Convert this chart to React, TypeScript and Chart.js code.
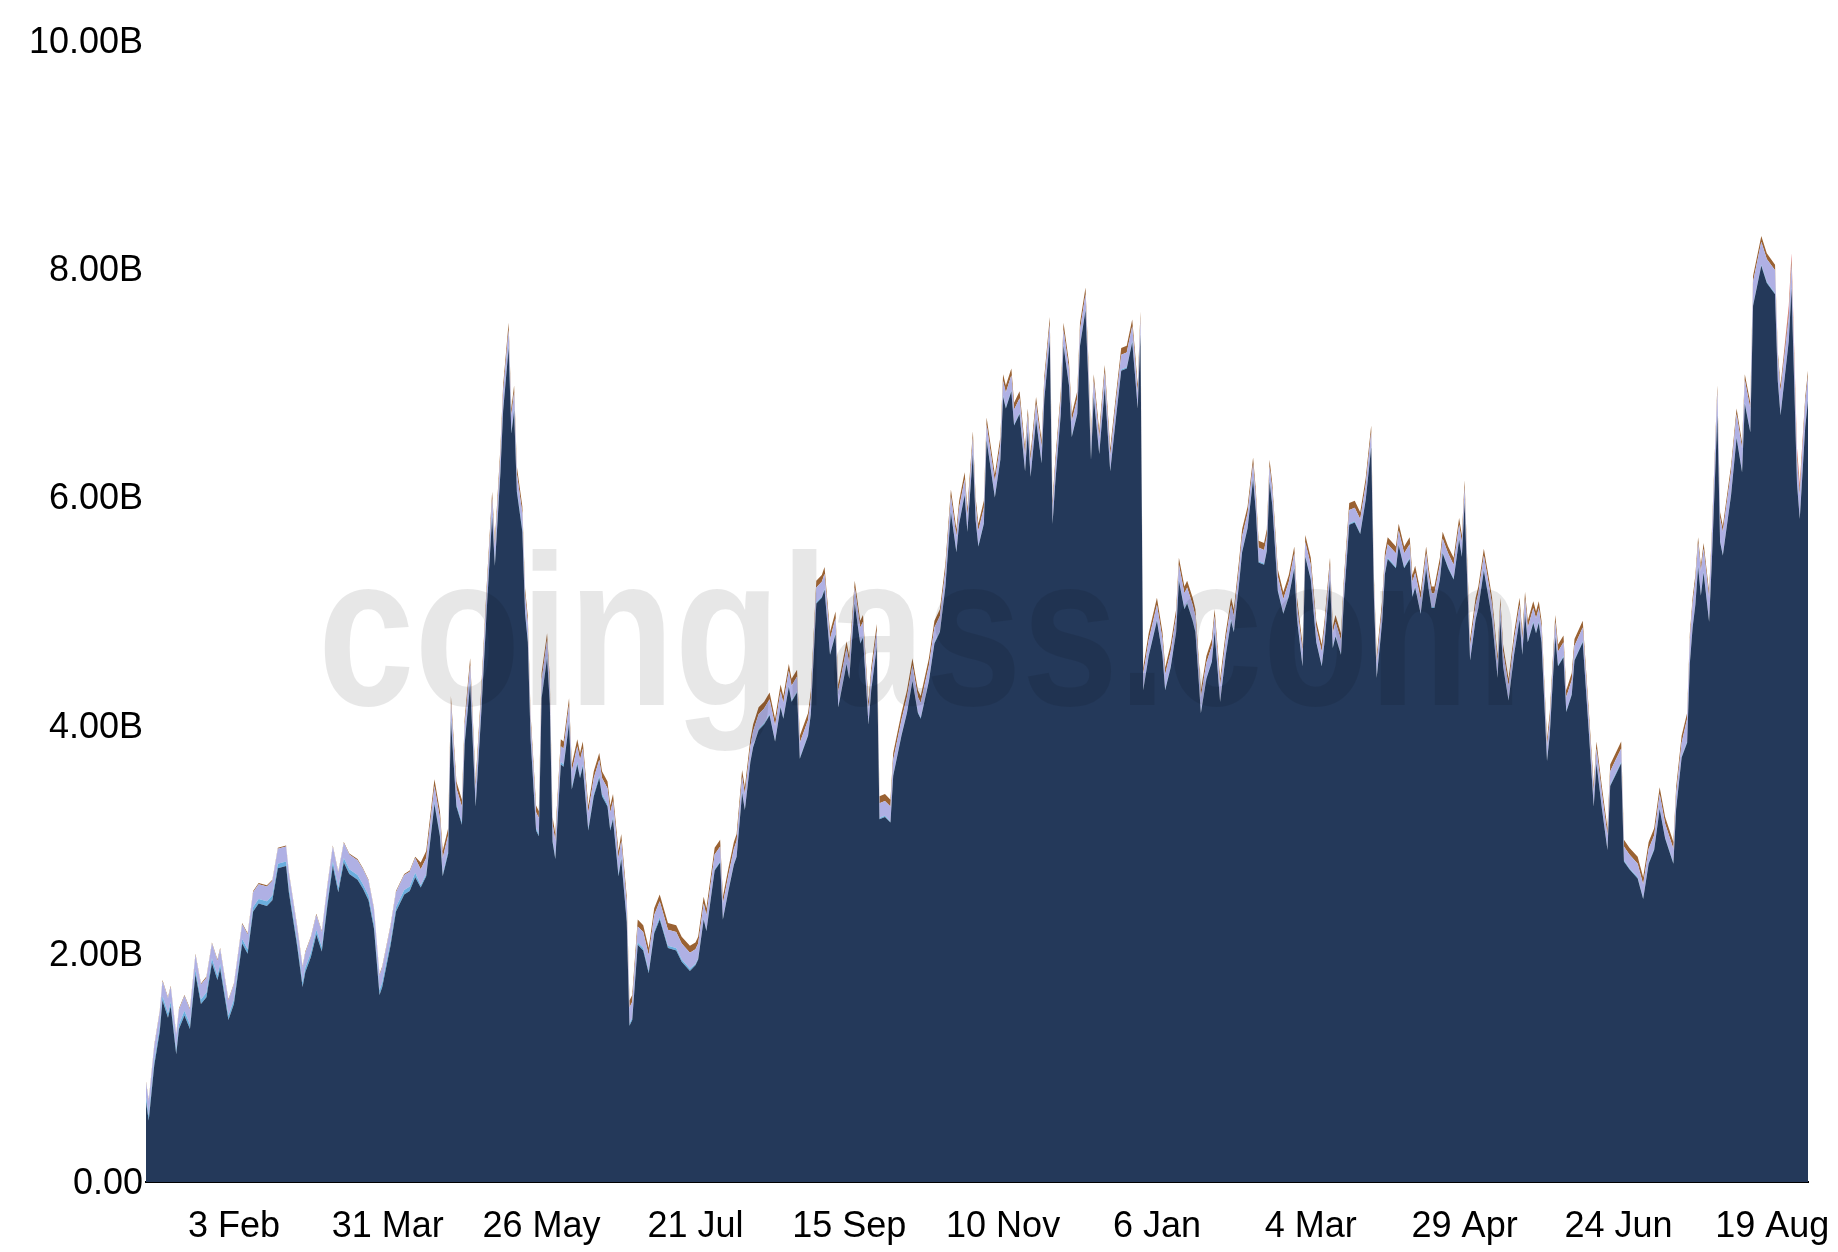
import React, { useEffect, useRef } from 'react';
import { Chart, registerables } from 'chart.js';

Chart.register(...registerables);

// Day offsets from the first data point (2 Jan 2023)
const days = [
  0,1,3,5,6,8,9,11,12,14,
  16,18,20,22,24,26,27,30,32,35,
  37,39,41,44,46,48,51,52,55,57,
  58,60,62,64,66,68,70,72,74,77,
  79,81,83,85,86,89,91,94,96,98,
  100,102,105,107,108,110,111,113,115,116,
  118,120,122,124,126,127,129,130,132,133,
  134,135,137,138,139,140,142,143,144,146,
  147,148,149,151,152,154,155,157,158,159,
  161,163,165,166,168,169,170,172,173,175,
  176,177,179,181,183,185,187,190,193,195,
  198,
  200,201,203,204,207,209,210,212,214,215,
  217,218,220,221,223,225,227,229,231,232,
  234,235,237,238,241,242,244,246,247,249,
  251,252,255,256,258,260,261,263,264,266,
  267,269,271,272,275,277,279,281,282,285,
  287,289,291,293,295,296,298,299,
  301,302,303,305,306,309,311,312,313,315,
  316,318,320,321,322,324,326,327,329,330,
  331,333,334,336,337,339,340,342,343,344,
  345,347,349,351,353,355,357,359,360,361,
  362,363,365,368,370,371,373,375,376,378,
  379,381,382,384,386,388,389,391,393,395,
  396,398,399,
  401,403,404,405,407,408,409,410,412,414,
  416,418,419,421,422,424,426,428,429,431,
  432,433,435,436,438,440,442,444,446,447,
  448,450,451,452,455,456,458,460,461,462,
  464,466,467,468,469,471,472,474,476,478,
  479,480,481,482,484,485,487,489,490,492,
  493,494,496,498,
  500,501,502,503,505,506,507,508,510,511,
  513,514,516,517,519,520,523,525,527,528,
  530,532,533,535,537,538,540,543,545,547,
  549,551,553,556,557,559,561,562,563,564,
  565,566,567,569,570,572,573,574,577,579,
  581,582,584,585,588,590,593,594,595,598,
  599,601,602,604,605,
];

// Main series (billions)
const navySeries = [
  0.70,0.54,1.02,1.32,1.59,1.44,1.54,1.12,1.34,1.46,
  1.34,1.82,1.56,1.62,1.92,1.77,1.87,1.42,1.56,2.09,
  2.00,2.37,2.44,2.42,2.47,2.75,2.77,2.54,2.07,1.71,
  1.84,1.97,2.17,2.02,2.42,2.77,2.54,2.80,2.70,2.65,
  2.57,2.47,2.22,1.64,1.71,2.07,2.37,2.52,2.55,2.67,
  2.58,2.68,3.31,3.03,2.68,2.88,4.04,3.29,3.13,3.84,
  4.37,3.29,4.09,5.00,5.83,5.40,6.21,6.76,7.31,6.56,
  6.76,6.05,5.70,4.98,4.73,3.88,3.08,3.03,4.24,4.59,
  4.19,2.98,2.83,3.66,3.64,4.02,3.44,3.66,3.54,3.64,
  3.08,3.38,3.54,3.38,3.29,3.08,3.18,2.68,2.83,2.28,
  1.37,1.42,2.08,2.03,1.83,2.18,2.30,2.05,2.03,1.93,
  1.85,
  1.90,1.95,2.30,2.20,2.73,2.80,2.30,2.55,2.78,2.85,
  3.41,3.26,3.68,3.81,3.96,4.01,4.09,3.86,4.16,4.06,
  4.34,4.21,4.29,3.71,3.91,4.10,5.07,5.12,5.19,4.62,
  4.80,4.16,4.54,4.41,5.07,4.72,4.77,4.01,4.31,4.69,
  3.18,3.20,3.15,3.56,3.91,4.11,4.39,4.11,4.06,4.39,
  4.72,4.82,5.22,5.87,5.52,5.77,6.02,5.70,
  6.38,5.80,5.57,5.77,6.50,6.00,6.33,6.88,6.78,6.93,
  6.63,6.73,6.23,6.58,6.18,6.68,6.30,6.86,7.38,5.77,
  6.13,6.73,7.33,6.98,6.53,6.73,7.33,7.64,7.03,6.33,
  6.88,6.38,6.96,6.23,6.68,7.11,7.13,7.36,7.08,6.78,
  7.43,4.31,4.61,4.92,4.62,4.31,4.51,4.82,5.27,5.02,
  5.07,4.92,4.82,4.11,4.41,4.56,4.82,4.21,4.61,4.92,
  4.82,5.27,5.52,
  5.73,6.16,5.88,5.43,5.41,5.53,6.14,5.93,5.18,4.98,
  5.13,5.38,4.93,4.52,5.48,5.28,4.73,4.52,4.73,5.28,
  4.68,4.78,4.62,5.08,5.76,5.78,5.68,5.98,6.44,5.11,
  4.42,4.91,5.33,5.46,5.38,5.58,5.38,5.46,5.13,5.21,
  4.98,5.38,5.18,5.03,5.03,5.28,5.51,5.38,5.28,5.63,
  5.48,5.96,5.23,4.57,4.93,5.03,5.36,5.08,4.93,4.42,
  4.93,4.52,4.22,4.62,
  4.93,4.62,4.98,4.73,4.90,4.81,4.90,4.73,3.69,3.92,
  4.78,4.52,4.60,4.12,4.27,4.57,4.73,4.02,3.29,3.67,
  3.27,2.91,3.47,3.57,3.67,2.81,2.74,2.66,2.48,2.79,
  2.91,3.27,3.01,2.79,3.27,3.72,3.85,4.55,4.86,5.06,
  5.39,5.14,5.34,4.91,5.44,6.72,5.61,5.49,6.02,6.52,
  6.22,6.82,6.57,7.68,8.03,7.88,7.78,7.02,6.72,7.37,
  7.83,6.12,5.81,6.62,6.85,
];

const lightBlueSeries = [
  0.04,0.04,0.04,0.04,0.04,0.04,0.04,0.04,0.04,0.04,
  0.04,0.04,0.04,0.04,0.04,0.04,0.04,0.04,0.04,0.04,
  0.04,0.04,0.04,0.04,0.04,0.04,0.04,0.04,0.04,0.04,
  0.04,0.04,0.04,0.04,0.04,0.04,0.04,0.04,0.04,0.04,
  0.04,0.04,0.04,0.04,0.04,0.04,0.04,0.04,0.04,0.04,
  0.02,0.02,0.02,0.02,0.02,0.02,0.02,0.02,0.02,0.02,
  0.02,0.02,0.02,0.02,0.02,0.02,0.02,0.02,0.02,0.02,
  0.02,0.02,0.02,0.02,0.02,0.02,0.02,0.02,0.02,0.02,
  0.02,0.02,0.02,0.02,0.02,0.02,0.02,0.02,0.02,0.02,
  0.02,0.02,0.02,0.02,0.02,0.02,0.02,0.02,0.02,0.02,
  0.02,0.02,0.02,0.02,0.02,0.02,0.02,0.02,0.02,0.02,
  0.02,
  0.01,0.01,0.01,0.01,0.01,0.01,0.01,0.01,0.01,0.01,
  0.01,0.01,0.01,0.01,0.01,0.01,0.01,0.01,0.01,0.01,
  0.01,0.01,0.01,0.01,0.01,0.01,0.01,0.01,0.01,0.01,
  0.01,0.01,0.01,0.01,0.01,0.01,0.01,0.01,0.01,0.01,
  0.01,0.01,0.01,0.01,0.01,0.01,0.01,0.01,0.01,0.01,
  0.01,0.01,0.01,0.01,0.01,0.01,0.01,0.01,
  0.01,0.01,0.01,0.01,0.01,0.01,0.01,0.01,0.01,0.01,
  0.01,0.01,0.01,0.01,0.01,0.01,0.01,0.01,0.01,0.01,
  0.01,0.01,0.01,0.01,0.01,0.01,0.01,0.01,0.01,0.01,
  0.01,0.01,0.01,0.01,0.01,0.01,0.01,0.01,0.01,0.01,
  0.01,0.01,0.01,0.01,0.01,0.01,0.01,0.01,0.01,0.01,
  0.01,0.01,0.01,0.01,0.01,0.01,0.01,0.01,0.01,0.01,
  0.01,0.01,0.01,
  0.01,0.01,0.01,0.01,0.01,0.01,0.01,0.01,0.01,0.01,
  0.01,0.01,0.01,0.01,0.01,0.01,0.01,0.01,0.01,0.01,
  0.01,0.01,0.01,0.01,0.01,0.01,0.01,0.01,0.01,0.01,
  0.01,0.01,0.01,0.01,0.01,0.01,0.01,0.01,0.01,0.01,
  0.01,0.01,0.01,0.01,0.01,0.01,0.01,0.01,0.01,0.01,
  0.01,0.01,0.01,0.01,0.01,0.01,0.01,0.01,0.01,0.01,
  0.01,0.01,0.01,0.01,
  0.01,0.01,0.01,0.01,0.01,0.01,0.01,0.01,0.01,0.01,
  0.01,0.01,0.01,0.01,0.01,0.01,0.01,0.01,0.01,0.01,
  0.01,0.01,0.01,0.01,0.01,0.01,0.01,0.01,0.01,0.01,
  0.01,0.01,0.01,0.01,0.01,0.01,0.01,0.01,0.01,0.01,
  0.01,0.01,0.01,0.01,0.01,0.01,0.01,0.01,0.01,0.01,
  0.01,0.01,0.01,0.01,0.01,0.01,0.01,0.01,0.01,0.01,
  0.01,0.01,0.01,0.01,0.01,
];

const lavenderSeries = [
  0.13,0.13,0.13,0.13,0.13,0.13,0.13,0.13,0.13,0.13,
  0.13,0.13,0.13,0.13,0.13,0.13,0.13,0.13,0.13,0.13,
  0.13,0.13,0.13,0.13,0.13,0.13,0.13,0.13,0.13,0.13,
  0.13,0.13,0.13,0.13,0.13,0.13,0.13,0.13,0.13,0.13,
  0.13,0.13,0.13,0.13,0.13,0.13,0.13,0.13,0.13,0.13,
  0.14,0.14,0.14,0.14,0.14,0.14,0.14,0.14,0.14,0.14,
  0.14,0.14,0.14,0.14,0.14,0.14,0.14,0.14,0.14,0.14,
  0.14,0.14,0.14,0.14,0.14,0.14,0.14,0.14,0.14,0.14,
  0.14,0.14,0.14,0.14,0.14,0.14,0.14,0.14,0.14,0.14,
  0.14,0.14,0.14,0.14,0.14,0.14,0.14,0.14,0.14,0.14,
  0.14,0.14,0.14,0.14,0.14,0.14,0.14,0.14,0.14,0.14,
  0.14,
  0.13,0.13,0.13,0.13,0.13,0.13,0.13,0.13,0.13,0.13,
  0.13,0.13,0.13,0.13,0.13,0.13,0.13,0.13,0.13,0.13,
  0.13,0.13,0.13,0.13,0.13,0.13,0.13,0.13,0.13,0.13,
  0.13,0.13,0.13,0.13,0.13,0.13,0.13,0.13,0.13,0.13,
  0.13,0.13,0.13,0.13,0.13,0.13,0.13,0.13,0.13,0.13,
  0.13,0.13,0.13,0.13,0.13,0.13,0.13,0.13,
  0.13,0.13,0.13,0.13,0.13,0.13,0.13,0.13,0.13,0.13,
  0.13,0.13,0.13,0.13,0.13,0.13,0.13,0.13,0.13,0.13,
  0.13,0.13,0.13,0.13,0.13,0.13,0.13,0.13,0.13,0.13,
  0.13,0.13,0.13,0.13,0.13,0.13,0.13,0.13,0.13,0.13,
  0.13,0.13,0.13,0.13,0.13,0.13,0.13,0.13,0.13,0.13,
  0.13,0.13,0.13,0.13,0.13,0.13,0.13,0.13,0.13,0.13,
  0.13,0.13,0.13,
  0.12,0.12,0.12,0.12,0.12,0.12,0.12,0.12,0.12,0.12,
  0.12,0.12,0.12,0.12,0.12,0.12,0.12,0.12,0.12,0.12,
  0.12,0.12,0.12,0.12,0.12,0.12,0.12,0.12,0.12,0.12,
  0.12,0.12,0.12,0.12,0.12,0.12,0.12,0.12,0.12,0.12,
  0.12,0.12,0.12,0.12,0.12,0.12,0.12,0.12,0.12,0.12,
  0.12,0.12,0.12,0.12,0.12,0.12,0.12,0.12,0.12,0.12,
  0.12,0.12,0.12,0.12,
  0.12,0.12,0.12,0.12,0.12,0.12,0.12,0.12,0.12,0.12,
  0.12,0.12,0.12,0.12,0.12,0.12,0.12,0.12,0.12,0.12,
  0.12,0.12,0.12,0.12,0.12,0.12,0.12,0.12,0.12,0.12,
  0.12,0.12,0.12,0.12,0.12,0.12,0.20,0.20,0.20,0.20,
  0.20,0.20,0.20,0.20,0.20,0.20,0.20,0.20,0.20,0.20,
  0.20,0.20,0.20,0.20,0.20,0.20,0.20,0.20,0.20,0.20,
  0.20,0.20,0.20,0.20,0.20,
];

const brownSeries = [
  0.01,0.01,0.01,0.01,0.01,0.01,0.01,0.01,0.01,0.01,
  0.01,0.01,0.01,0.01,0.01,0.01,0.01,0.01,0.01,0.01,
  0.01,0.01,0.01,0.01,0.01,0.01,0.01,0.01,0.01,0.01,
  0.01,0.01,0.01,0.01,0.01,0.01,0.01,0.01,0.01,0.01,
  0.01,0.01,0.01,0.01,0.01,0.01,0.01,0.01,0.01,0.01,
  0.06,0.06,0.06,0.06,0.06,0.06,0.06,0.06,0.06,0.06,
  0.06,0.06,0.06,0.06,0.06,0.06,0.06,0.06,0.06,0.06,
  0.06,0.06,0.06,0.06,0.06,0.06,0.06,0.06,0.06,0.06,
  0.06,0.06,0.06,0.06,0.06,0.06,0.06,0.06,0.06,0.06,
  0.06,0.06,0.06,0.06,0.06,0.06,0.06,0.06,0.06,0.06,
  0.06,0.06,0.06,0.06,0.06,0.06,0.06,0.06,0.06,0.06,
  0.06,
  0.06,0.06,0.06,0.06,0.06,0.06,0.06,0.06,0.06,0.06,
  0.06,0.06,0.06,0.06,0.06,0.06,0.06,0.06,0.06,0.06,
  0.06,0.06,0.06,0.06,0.06,0.06,0.06,0.06,0.06,0.06,
  0.06,0.06,0.06,0.06,0.06,0.06,0.06,0.06,0.06,0.06,
  0.06,0.06,0.06,0.06,0.06,0.06,0.06,0.06,0.06,0.06,
  0.06,0.06,0.06,0.06,0.06,0.06,0.06,0.06,
  0.06,0.06,0.06,0.06,0.06,0.06,0.06,0.06,0.06,0.06,
  0.06,0.06,0.06,0.06,0.06,0.06,0.06,0.06,0.06,0.06,
  0.06,0.06,0.06,0.06,0.06,0.06,0.06,0.06,0.06,0.06,
  0.06,0.06,0.06,0.06,0.06,0.06,0.06,0.06,0.06,0.06,
  0.06,0.06,0.06,0.06,0.06,0.06,0.06,0.06,0.06,0.06,
  0.06,0.06,0.06,0.06,0.06,0.06,0.06,0.06,0.06,0.06,
  0.06,0.06,0.06,
  0.06,0.06,0.06,0.06,0.06,0.06,0.06,0.06,0.06,0.06,
  0.06,0.06,0.06,0.06,0.06,0.06,0.06,0.06,0.06,0.06,
  0.06,0.06,0.06,0.06,0.06,0.06,0.06,0.06,0.06,0.06,
  0.06,0.06,0.06,0.06,0.06,0.06,0.06,0.06,0.06,0.06,
  0.06,0.06,0.06,0.06,0.06,0.06,0.06,0.06,0.06,0.06,
  0.06,0.06,0.06,0.06,0.06,0.06,0.06,0.06,0.06,0.06,
  0.06,0.06,0.06,0.06,
  0.06,0.06,0.06,0.06,0.06,0.06,0.06,0.06,0.06,0.06,
  0.06,0.06,0.06,0.06,0.06,0.06,0.06,0.06,0.06,0.06,
  0.06,0.06,0.06,0.06,0.06,0.06,0.06,0.06,0.06,0.06,
  0.06,0.06,0.06,0.06,0.06,0.06,0.05,0.05,0.05,0.05,
  0.05,0.05,0.05,0.05,0.05,0.05,0.05,0.05,0.05,0.05,
  0.05,0.05,0.05,0.05,0.05,0.05,0.05,0.05,0.05,0.05,
  0.05,0.05,0.05,0.05,0.05,
];

const redSeries = [
  0,0,0,0,0,0,0,0,0,0, 0,0,0,0,0,0,0,0,0,0, 0,0,0,0,0,0,0,0,0,0,
  0,0,0,0,0,0,0,0,0,0, 0,0,0,0,0,0,0,0,0,0,
  0,0,0,0,0,0,0,0,0,0, 0,0,0,0,0,0,0,0,0,0, 0,0,0,0,0,0,0,0,0,0,
  0,0,0,0,0,0,0,0,0,0, 0,0,0,0,0,0,0,0,0,0, 0,0,0,0,0,0,0,0,0,0,
  0,
  0,0,0,0,0,0,0,0,0,0, 0,0,0,0,0,0,0,0,0,0, 0,0,0,0,0,0,0,0,0,0,
  0,0,0,0,0,0,0,0,0,0, 0,0,0,0,0,0,0,0,0,0, 0,0,0,0,0,0,0,0,
  0,0,0,0,0,0,0,0,0,0, 0,0,0,0,0,0,0,0,0,0, 0,0,0,0,0,0,0,0,0,0,
  0,0,0,0,0,0,0,0,0,0, 0,0,0,0,0,0,0,0,0,0, 0,0,0,0,0,0,0,0,0,0,
  0,0,0,
  0,0,0,0,0,0,0,0,0,0, 0,0,0,0,0,0,0,0,0,0, 0,0,0,0,0,0,0,0,0,0,
  0,0,0,0,0,0,0,0,0,0, 0,0,0,0,0,0,0,0,0,0, 0,0,0,0,0,0,0,0,0,0,
  0,0,0,0,
  0,0,0,0,0,0,0,0,0,0, 0,0,0,0,0,0,0,0,0,0, 0,0,0,0,0,0,0,0,0,0,
  0,0,0,0,0,0,0,0,0,0, 0,0,0,0,0,0,0,0,0,0,
  0,0,0,0,0,0,0,0,0,0.05,
  0.05,0.05,0.05,0,0,
];

const tickDays = [32, 88, 144, 200, 256, 312, 368, 424, 480, 536, 592];
const tickLabels = ['3 Feb', '31 Mar', '26 May', '21 Jul', '15 Sep', '10 Nov', '6 Jan', '4 Mar', '29 Apr', '24 Jun', '19 Aug'];

const FONT = '"Liberation Sans", Arial, Helvetica, sans-serif';

const watermarkPlugin = {
  id: 'watermark',
  afterDatasetsDraw(chart: any) {
    const ctx = chart.ctx;
    ctx.save();
    ctx.font = `bold 215px ${FONT}`;
    ctx.fillStyle = 'rgba(0,0,0,0.095)';
    ctx.textAlign = 'left';
    ctx.textBaseline = 'alphabetic';
    ctx.fillText('coinglass.com', 318, 705, 1205);
    ctx.restore();
  },
};

function toPoints(values: number[]) {
  return values.map((v, i) => ({ x: days[i], y: v }));
}

export default function App() {
  const canvasRef = useRef<HTMLCanvasElement | null>(null);

  useEffect(() => {
    const canvas = canvasRef.current;
    if (!canvas) return;
    const series = [
      { label: 'Main', data: navySeries, color: '#24395a', fill: 'origin' },
      { label: 'Light blue', data: lightBlueSeries, color: '#6aaede', fill: '-1' },
      { label: 'Lavender', data: lavenderSeries, color: '#afb0e4', fill: '-1' },
      { label: 'Brown', data: brownSeries, color: '#9a6233', fill: '-1' },
      { label: 'Red', data: redSeries, color: '#e0646c', fill: '-1' },
    ];
    const chart = new Chart(canvas, {
      type: 'line',
      data: {
        datasets: series.map((s) => ({
          label: s.label,
          data: toPoints(s.data),
          backgroundColor: s.color,
          borderColor: 'rgba(0,0,0,0)',
          borderWidth: 0,
          pointRadius: 0,
          pointHoverRadius: 0,
          tension: 0,
          fill: s.fill,
        })),
      },
      options: {
        animation: false,
        responsive: false,
        events: [],
        layout: { padding: { top: 41, right: 30, bottom: 0, left: 0 } },
        plugins: {
          legend: { display: false },
          tooltip: { enabled: false },
        },
        scales: {
          x: {
            type: 'linear',
            min: 0,
            max: 605,
            grid: { display: false, drawTicks: false },
            border: { display: true, color: '#000', width: 2 },
            afterBuildTicks: (scale: any) => {
              scale.ticks = tickDays.map((v) => ({ value: v }));
            },
            afterFit: (scale: any) => {
              scale.height = 70;
              scale.paddingLeft = 0;
              scale.paddingRight = 0;
            },
            ticks: {
              autoSkip: false,
              maxRotation: 0,
              padding: 23,
              color: '#000',
              font: { family: FONT, size: 36 },
              callback: (_v: any, index: number) => tickLabels[index] ?? '',
            },
          },
          y: {
            stacked: true,
            min: 0,
            max: 10,
            grid: { display: false, drawTicks: false },
            border: { display: false },
            afterFit: (scale: any) => {
              scale.width = 146;
            },
            ticks: {
              stepSize: 2,
              padding: 3,
              labelOffset: 2,
              color: '#000',
              font: { family: FONT, size: 36 },
              callback: (v: any) => (Number(v) === 0 ? '0.00' : `${Number(v).toFixed(2)}B`),
            },
          },
        },
      },
      plugins: [watermarkPlugin],
    } as any);
    return () => chart.destroy();
  }, []);

  return (
    <div style={{ position: 'absolute', left: 0, top: 0, width: 1838, height: 1252, background: '#fff' }}>
      <canvas ref={canvasRef} width={1838} height={1252} style={{ display: 'block' }} />
    </div>
  );
}
